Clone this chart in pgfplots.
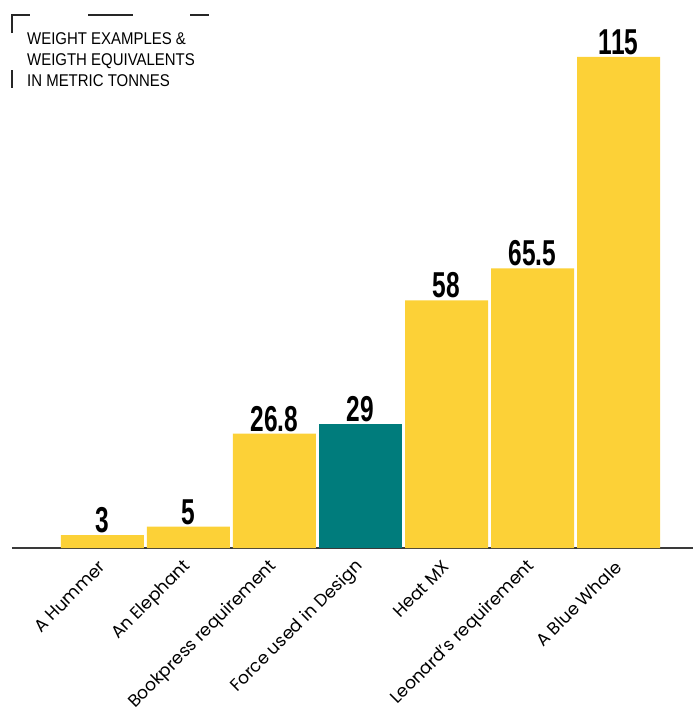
\documentclass[border=0pt]{standalone}
\usepackage{pgfplots}
\pgfplotsset{compat=1.18}
\usepackage{fontspec}
\setmainfont{Poppins}
\newfontfamily\numfont[FakeStretch=0.68]{Liberation Sans}
\newfontfamily\titlefont[FakeStretch=0.88]{Liberation Sans}
\definecolor{yel}{HTML}{FCD137}
\definecolor{tealc}{HTML}{007C7C}
\definecolor{axc}{HTML}{3A3A3A}
\begin{document}
\begin{tikzpicture}
\path[use as bounding box] (0pt,0pt) rectangle (699pt,-713pt);
\begin{axis}[
  at={(12pt,-548pt)}, anchor=south west,
  scale only axis, width=681pt, height=533.75pt,
  xmin=-1.052, xmax=6.866, ymin=0, ymax=125,
  axis x line*=bottom, axis y line=none,
  x axis line style={line width=2pt, color=axc, -},
  xtick={0,...,6},
  xticklabels={A Hummer, An Elephant, Bookpress requirement, Force used in Design, Heat MX, Leonard's requirement, A Blue Whale},
  major tick length=0pt,
  ytick=\empty,
  xticklabel style={rotate=45, anchor=east, font=\fontsize{17.3}{17.3}\selectfont, xshift=-8pt, yshift=-11pt},
  ybar, bar width=83pt, bar shift=0pt,
  /pgf/number format/assume math mode=true,
  nodes near coords,
  every node near coord/.append style={font=\numfont\bfseries\fontsize{36}{36}\selectfont, anchor=south, inner sep=2pt, text=black},
  clip=false,
]
\addplot[fill=yel, draw=none] coordinates {(0,3) (1,5) (2,26.8) (4,58) (5,65.5) (6,115)};
\addplot[fill=tealc, draw=none] coordinates {(3,29)};
\end{axis}
\node[anchor=north west, align=left, inner sep=0pt, font=\titlefont\fontsize{17}{21}\selectfont] at (27pt,-32pt) {WEIGHT EXAMPLES \&\\WEIGTH EQUIVALENTS\\IN METRIC TONNES};
\draw[line width=1.5pt, color=black!85] (12pt,-33pt) -- (12pt,-15pt) -- (30pt,-15pt);
\draw[line width=1.5pt, color=black!85] (88pt,-15pt) -- (133pt,-15pt);
\draw[line width=1.5pt, color=black!85] (190pt,-15pt) -- (209pt,-15pt);
\draw[line width=1.5pt, color=black!85] (12pt,-70pt) -- (12pt,-88pt);
\end{tikzpicture}
\end{document}
